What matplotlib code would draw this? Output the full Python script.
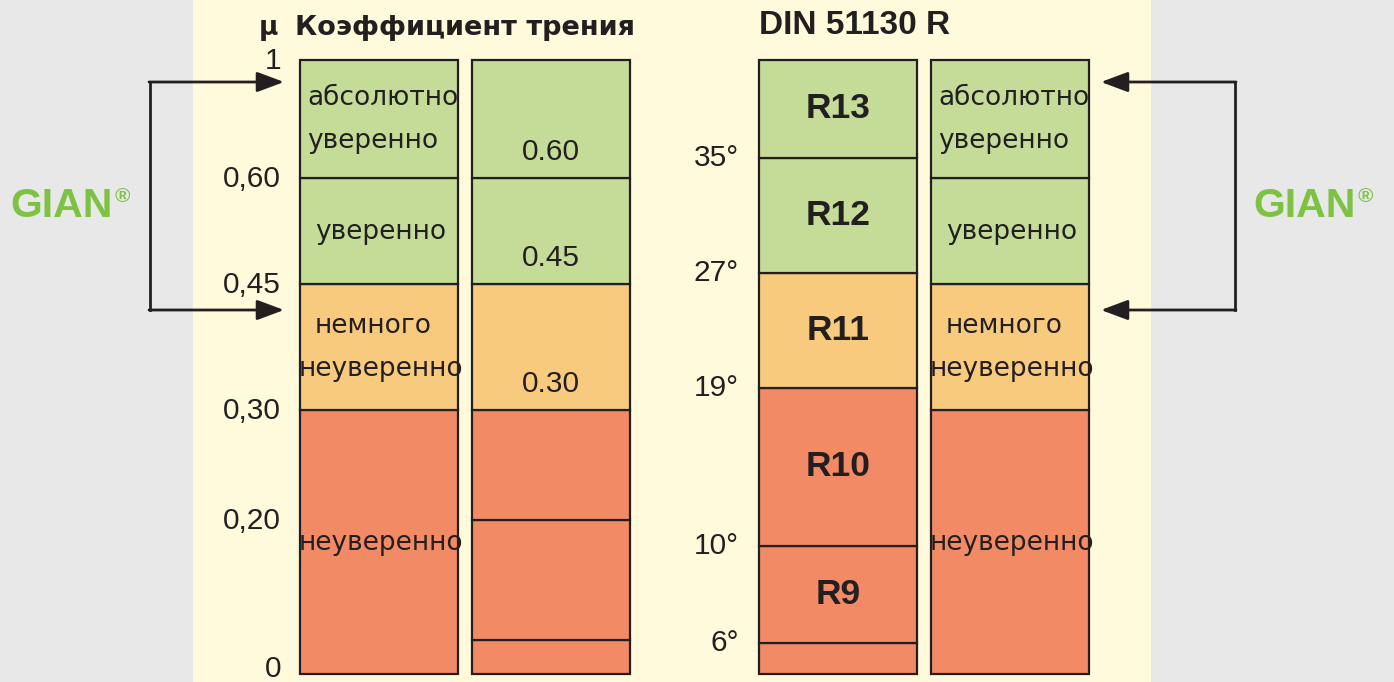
import matplotlib
matplotlib.use("Agg")
import matplotlib.pyplot as plt
from matplotlib.patches import Rectangle

# ---------------- data ----------------
# schematic heights of segment boundaries (chart units, 0 = base, 614 = top)
mu_tick_labels = ["1", "0,60", "0,45", "0,30", "0,20", "0"]
mu_tick_levels = [614, 496, 390, 264, 154, 0]

col1_edges = [0, 264, 390, 496, 614]
col1_colors = ["salmon", "orange", "green", "green"]
col1_labels = [["неуверенно"], ["немного", "неуверенно"], ["уверенно"], ["абсолютно", "уверенно"]]

col2_edges = [0, 34, 154, 264, 390, 496, 614]
col2_colors = ["salmon", "salmon", "salmon", "orange", "green", "green"]
col2_values = ["0.30", "0.45", "0.60"]
col2_value_levels = [264, 390, 496]

deg_labels = ["6°", "10°", "19°", "27°", "35°"]
col3_edges = [0, 31, 128, 286, 401, 516, 614]
col3_colors = ["salmon", "salmon", "salmon", "orange", "green", "green"]
col3_classes = ["", "R9", "R10", "R11", "R12", "R13"]

col4_edges = col1_edges
col4_colors = col1_colors
col4_labels = col1_labels

title_mu = "μ"
title_left = "Коэффициент трения"
title_right = "DIN 51130 R"
brand = "GIAN"

palette = {"green": "#C4DC98", "orange": "#F8CA7E", "salmon": "#F38A66"}
ink = "#231F20"

# ---------------- figure ----------------
W, H = 1394, 682
fig = plt.figure(figsize=(W / 100, H / 100), dpi=100, facecolor="#E8E8E8")
ax = fig.add_axes([0, 0, 1, 1])
ax.set_xlim(0, W)
ax.set_ylim(-8, 674)
ax.axis("off")
ax.set_facecolor("#E8E8E8")

# pale yellow panel
ax.add_patch(Rectangle((193, -8), 958, 682, facecolor="#FFFADB", edgecolor="none", zorder=0))

col_w = 158
col_x = [300, 472, 759, 931]
lw = 1.6


def draw_column(x0, edges, colors):
    bottoms = edges[:-1]
    heights = [edges[i + 1] - edges[i] for i in range(len(edges) - 1)]
    ax.bar([x0 + col_w / 2] * len(heights), heights, bottom=bottoms, width=col_w,
           color=[palette[c] for c in colors], edgecolor=ink, linewidth=lw, zorder=2)


draw_column(col_x[0], col1_edges, col1_colors)
draw_column(col_x[1], col2_edges, col2_colors)
draw_column(col_x[2], col3_edges, col3_colors)
draw_column(col_x[3], col4_edges, col4_colors)

desc_font = dict(family="DejaVu Sans", fontsize=19, color=ink, zorder=3)
num_font = dict(family="Liberation Sans", fontsize=21.5, color=ink, zorder=3)


def draw_desc(x0, edges, labels):
    for i, lines in enumerate(labels):
        mid = (edges[i] + edges[i + 1]) / 2
        if len(lines) == 1:
            ax.text(x0 + col_w / 2 + 2, mid - 1, lines[0], ha="center", va="center", **desc_font)
        else:
            if lines[0] == "абсолютно":
                ax.text(x0 + 7, mid + 21, lines[0], ha="left", va="center", **desc_font)
                ax.text(x0 + 7, mid - 22, lines[1], ha="left", va="center", **desc_font)
            else:
                ax.text(x0 + col_w / 2 - 6, mid + 21, lines[0], ha="center", va="center", **desc_font)
                ax.text(x0 + col_w / 2 + 2, mid - 22, lines[1], ha="center", va="center", **desc_font)


draw_desc(col_x[0], col1_edges, col1_labels)
draw_desc(col_x[3], col4_edges, col4_labels)

# mu tick labels (the base label sits just inside the lower edge)
for lab, lev in zip(mu_tick_labels, mu_tick_levels):
    ax.text(281, max(lev, 6) - 1, lab, ha="right", va="center", **num_font)

# column 2 values
for lab, lev in zip(col2_values, col2_value_levels):
    ax.text(col_x[1] + col_w / 2, lev + 26, lab, ha="center", va="center", **num_font)

# degree labels
for lab, lev in zip(deg_labels, col3_edges[1:-1]):
    ax.text(739, lev, lab, ha="right", va="center", **num_font)

# R classes
for i, lab in enumerate(col3_classes):
    if lab:
        mid = (col3_edges[i] + col3_edges[i + 1]) / 2
        ax.text(col_x[2] + col_w / 2, mid, lab, ha="center", va="center",
                family="Liberation Sans", fontweight="bold", fontsize=25.5, color=ink, zorder=3)

# titles
ax.text(259, 646, title_mu, ha="left", va="center", family="DejaVu Sans",
        fontweight="bold", fontsize=19, color=ink)
ax.text(295, 646, title_left, ha="left", va="center", family="DejaVu Sans",
        fontweight="bold", fontsize=19.5, color=ink)
ax.text(759, 648, title_right, ha="left", va="center", family="Liberation Sans",
        fontweight="bold", fontsize=24, color=ink)

# GIAN brand
green = "#7DC242"
for gx in (10, 1253):
    ax.text(gx, 468, brand, ha="left", va="center", family="Liberation Sans",
            fontweight="bold", fontsize=29.5, color=green)
    ax.text(gx + 105, 478, "®", ha="left", va="center", family="Liberation Sans",
            fontweight="bold", fontsize=15, color=green)

# brackets with arrows
y_top, y_bot = 592, 364
arrow_kw = dict(arrowstyle="-|>,head_length=0.75,head_width=0.28", mutation_scale=22,
                lw=2, color=ink, shrinkA=0, shrinkB=0)
ax.plot([150, 150], [y_top, y_bot], color=ink, lw=2, solid_capstyle="projecting")
ax.annotate("", xy=(284, y_top), xytext=(149, y_top), arrowprops=arrow_kw)
ax.annotate("", xy=(284, y_bot), xytext=(149, y_bot), arrowprops=arrow_kw)
ax.plot([1235, 1235], [y_top, y_bot], color=ink, lw=2, solid_capstyle="projecting")
ax.annotate("", xy=(1101, y_top), xytext=(1236, y_top), arrowprops=arrow_kw)
ax.annotate("", xy=(1101, y_bot), xytext=(1236, y_bot), arrowprops=arrow_kw)

fig.savefig("out.png", dpi=100, facecolor=fig.get_facecolor())
